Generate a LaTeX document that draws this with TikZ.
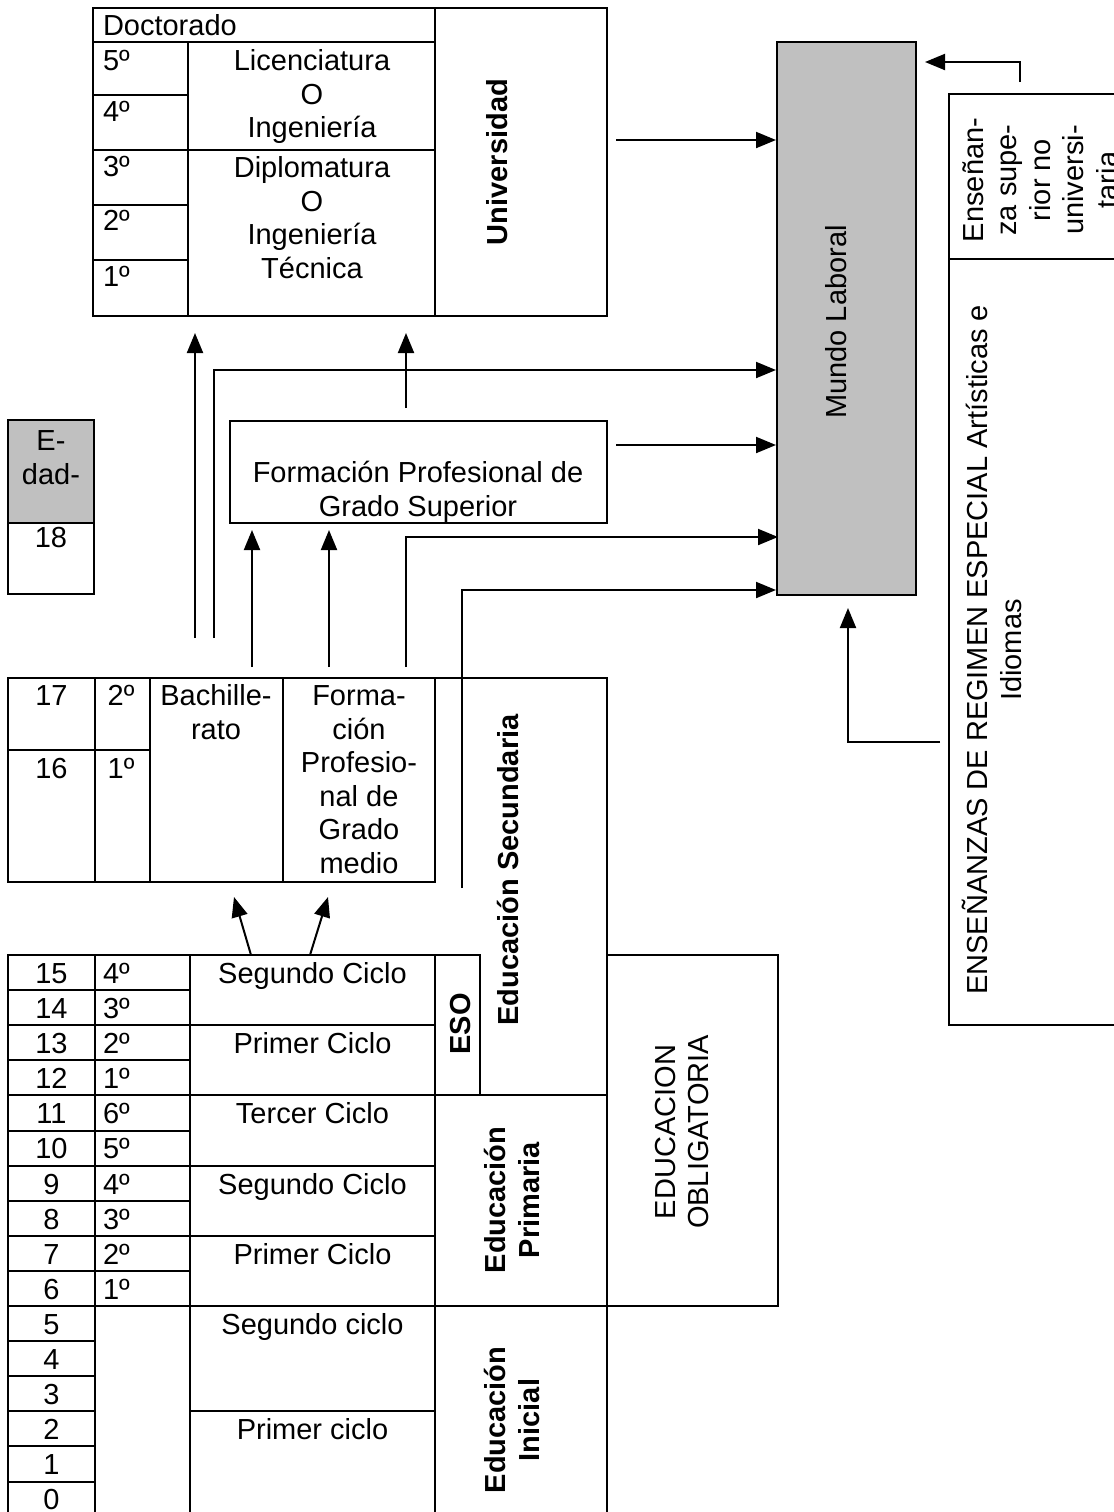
\documentclass[tikz,border=0pt]{standalone}
\usepackage{fontspec}
\setmainfont{Liberation Sans}
\usetikzlibrary{arrows.meta}
\definecolor{boxgray}{HTML}{C0C0C0}
\newcommand\ms{\rule[-5.025pt]{0pt}{16.75pt}}
\begin{document}
\begin{tikzpicture}[x=0.5pt,y=-0.5pt,line width=1pt,
  every node/.style={font=\fontsize{14.5}{16.75}\selectfont, inner sep=0pt},
  txt/.style={anchor=north, align=center},
  txtl/.style={anchor=north west, align=left},
  vtxt/.style={rotate=90, align=center},
  vbold/.style={rotate=90, align=center, font=\fontsize{14.5}{16.75}\selectfont\bfseries},
  grid/.style={line cap=rect},
  arr/.style={-{Triangle[length=10pt,width=8pt]}, line width=1pt},
  gbox/.style={draw, fill=boxgray}]
\useasboundingbox (0,0) rectangle (1114,1512);
\clip (0,0) rectangle (1114,1512);

% ---------- Universidad ----------
\draw[grid] (93,8) rectangle (607,316);
\draw[grid] (435,8) -- (435,316) (93,42) -- (435,42) (188,42) -- (188,316)
  (93,95) -- (188,95) (93,150) -- (435,150) (93,205) -- (188,205) (93,260) -- (188,260);
\node[txtl] (doc) at (102,11.5) {\ms Doctorado};
\node[txtl] (u5) at (102,46.5) {\ms 5º};
\node[txtl] (u4) at (102,97.5) {\ms 4º};
\node[txtl] (u3) at (102,152.5) {\ms 3º};
\node[txtl] (u2) at (102,206.5) {\ms 2º};
\node[txtl] (u1) at (102,262.5) {\ms 1º};
\node[txt] (lic) at (312,46.5) {\ms Licenciatura\\O\\Ingeniería};
\node[txt] (dip) at (312,153.5) {\ms Diplomatura\\O\\Ingeniería\\Técnica};
\node[vbold] (uni) at (497,162) {Universidad};

% ---------- Mundo laboral ----------
\draw[gbox] (777,42) rectangle (916,595);
\node[vtxt] (mundo) at (836,322) {Mundo Laboral};

% ---------- right boxes ----------
\draw (949,94) rectangle (1130,259);
\draw (949,259) rectangle (1130,1025);
\node[vtxt] (sup) at (1040,180) {Enseñan-\\za supe-\\rior no\\universi-\\taria};
\node[vtxt] (esp) at (992,650) {ENSEÑANZAS DE REGIMEN ESPECIAL Artísticas e\\Idiomas};

% ---------- Edad ----------
\draw[gbox] (8,420) rectangle (94,523);
\draw (8,523) rectangle (94,594);
\node[txt] (edad) at (51,426.5) {\ms E-\\dad-};
\node[txt] (e18) at (51,523.5) {\ms 18};

% ---------- FP grado superior ----------
\draw (230,421) rectangle (607,523);
\node[txt] (fps) at (418,458.5) {\ms Formación Profesional de\\Grado Superior};

% ---------- Bachillerato / FP medio ----------
\draw[grid] (8,678) rectangle (435,882);
\draw[grid] (435,678) -- (607,678) (95,678) -- (95,882) (150,678) -- (150,882)
  (283,678) -- (283,882) (8,750) -- (150,750);
\node[txt] (a17) at (51.5,681.5) {\ms 17};
\node[txt] (b2) at (121,681.5) {\ms 2º};
\node[txt] (a16) at (51.5,754.5) {\ms 16};
\node[txt] (b1) at (121,754.5) {\ms 1º};
\node[txt] (bach) at (216,681.5) {\ms Bachille-\\rato};
\node[txt] (fpm) at (359,681.5) {\ms Forma-\\ción\\Profesio-\\nal de\\Grado\\medio};
\node[vbold] (sec) at (508,870) {Educación Secundaria};

% ---------- lower table ----------
\draw[grid] (8,955) -- (480,955);
\draw[grid] (8,955) -- (8,1520) (95,955) -- (95,1520) (190,955) -- (190,1520)
  (435,955) -- (435,1520) (480,955) -- (480,1095.4) (607,678) -- (607,1520);
\foreach \k in {1,3,5,7,9} \draw[grid] (8,{955+35.1*\k}) -- (190,{955+35.1*\k});
\foreach \k in {2,6,8} \draw[grid] (8,{955+35.1*\k}) -- (435,{955+35.1*\k});
\foreach \k in {4,10} \draw[grid] (8,{955+35.1*\k}) -- (607,{955+35.1*\k});
\foreach \k in {11,...,15} \draw[grid] (8,{955+35.1*\k}) -- (95,{955+35.1*\k});
\draw[grid] (190,{955+35.1*13}) -- (435,{955+35.1*13});
\draw[grid] (607,955) rectangle (778,1306);
\foreach \a [count=\i] in {15,14,...,0} {
  \pgfmathsetmacro\yt{955+35.1*(\i-1)+4}
  \node[txt] (age\a) at (51.5,\yt) {\ms\a};
}
\foreach \g [count=\i] in {4,3,2,1,6,5,4,3,2,1} {
  \pgfmathsetmacro\yt{955+35.1*(\i-1)+4}
  \node[txtl] (gr\i) at (102,\yt) {\ms\g{}º};
}
\node[txt] (c1) at (312.5,959) {\ms Segundo Ciclo};
\node[txt] (c2) at (312.5,1029.2) {\ms Primer Ciclo};
\node[txt] (c3) at (312.5,1099.4) {\ms Tercer Ciclo};
\node[txt] (c4) at (312.5,1169.6) {\ms Segundo Ciclo};
\node[txt] (c5) at (312.5,1239.8) {\ms Primer Ciclo};
\node[txt] (c6) at (312.5,1310) {\ms Segundo ciclo};
\node[txt] (c7) at (312.5,1415.3) {\ms Primer ciclo};
\node[vbold] (eso) at (461,1024) {ESO};
\node[vbold] (pri) at (512,1200) {Educación\\Primaria};
\node[vbold] (ini) at (512,1420) {Educación\\Inicial};
\node[vtxt] (obl) at (682,1132) {EDUCACION\\OBLIGATORIA};

% ---------- connectors ----------
\coordinate (p1s) at (195,638);  \coordinate (p1e) at (195,333);
\coordinate (p2s) at (214,638);  \coordinate (p2e) at (776,370);
\coordinate (p3s) at (406,408);  \coordinate (p3e) at (406,333);
\coordinate (p4s) at (616,445);  \coordinate (p4e) at (776,445);
\coordinate (p5s) at (252,667);  \coordinate (p5e) at (252,530);
\coordinate (p6s) at (329,667);  \coordinate (p6e) at (329,530);
\coordinate (p7s) at (406,667);  \coordinate (p7e) at (778,537);
\coordinate (p8s) at (462,888);  \coordinate (p8e) at (776,590);
\coordinate (p9s) at (616,140);  \coordinate (p9e) at (776,140);
\coordinate (q1s) at (1020,82);  \coordinate (q1e) at (925,62);
\coordinate (q2s) at (940,742);  \coordinate (q2e) at (848,608);
\coordinate (r1s) at (251,955);  \coordinate (r1e) at (234,897);
\coordinate (r2s) at (310,955);  \coordinate (r2e) at (328,897);
\draw[arr] (p1s) -- (p1e);
\draw[arr] (p2s) |- (p2e);
\draw[arr] (p3s) -- (p3e);
\draw[arr] (p4s) -- (p4e);
\draw[arr] (p5s) -- (p5e);
\draw[arr] (p6s) -- (p6e);
\draw[arr] (p7s) |- (p7e);
\draw[arr] (p8s) |- (p8e);
\draw[arr] (p9s) -- (p9e);
\draw[arr] (q1s) |- (q1e);
\draw[arr] (q2s) -| (q2e);
\draw[arr] (r1s) -- (r1e);
\draw[arr] (r2s) -- (r2e);
\end{tikzpicture}
\end{document}
